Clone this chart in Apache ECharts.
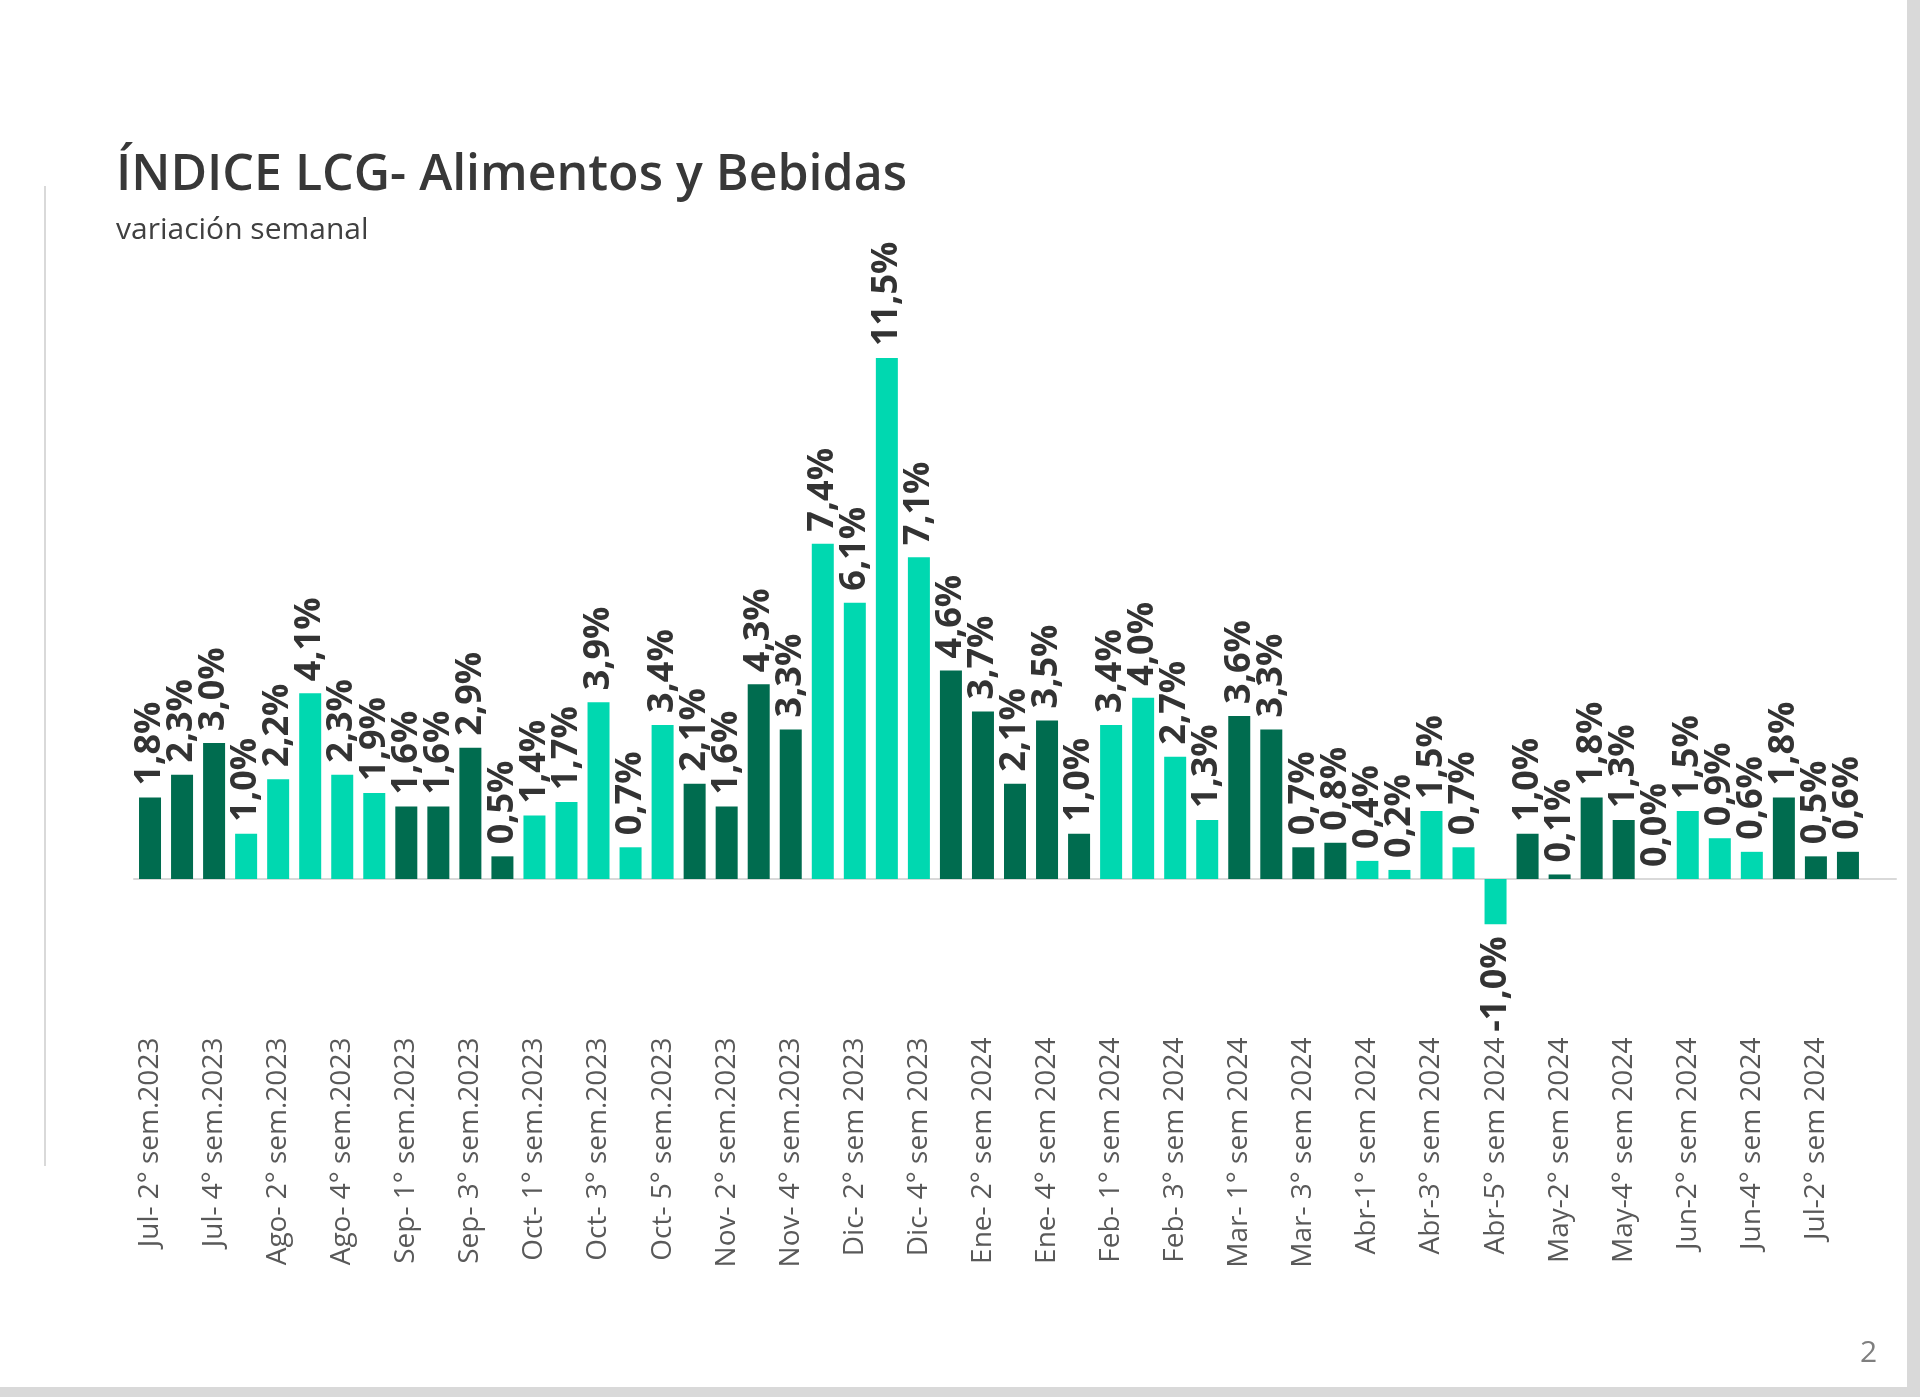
<!DOCTYPE html>
<html>
<head>
<meta charset="utf-8">
<script src="https://cdn.jsdelivr.net/npm/echarts@6/dist/echarts.min.js"></script>
<style>
html,body{margin:0;padding:0;background:#fff;}
#chart{width:1920px;height:1397px;}
</style>
</head>
<body>
<div id="chart"></div>
<script>
const categories = [
  'Jul- 2° sem.2023','Jul- 3° sem.2023','Jul- 4° sem.2023',
  'Ago- 1° sem.2023','Ago- 2° sem.2023','Ago- 3° sem.2023','Ago- 4° sem.2023','Ago- 5° sem.2023',
  'Sep- 1° sem.2023','Sep- 2° sem.2023','Sep- 3° sem.2023','Sep- 4° sem.2023',
  'Oct- 1° sem.2023','Oct- 2° sem.2023','Oct- 3° sem.2023','Oct- 4° sem.2023','Oct- 5° sem.2023',
  'Nov- 1° sem.2023','Nov- 2° sem.2023','Nov- 3° sem.2023','Nov- 4° sem.2023',
  'Dic- 1° sem 2023','Dic- 2° sem 2023','Dic- 3° sem 2023','Dic- 4° sem 2023',
  'Ene- 1° sem 2024','Ene- 2° sem 2024','Ene- 3° sem 2024','Ene- 4° sem 2024','Ene- 5° sem 2024',
  'Feb- 1° sem 2024','Feb- 2° sem 2024','Feb- 3° sem 2024','Feb- 4° sem 2024',
  'Mar- 1° sem 2024','Mar- 2° sem 2024','Mar- 3° sem 2024','Mar- 4° sem 2024',
  'Abr-1° sem 2024','Abr-2° sem 2024','Abr-3° sem 2024','Abr-4° sem 2024','Abr-5° sem 2024',
  'May-1° sem 2024','May-2° sem 2024','May-3° sem 2024','May-4° sem 2024',
  'Jun-1° sem 2024','Jun-2° sem 2024','Jun-3° sem 2024','Jun-4° sem 2024',
  'Jul-1° sem 2024','Jul-2° sem 2024','Jul-3° sem 2024',
  ''
];
const values = [
  1.8, 2.3, 3.0,
  1.0, 2.2, 4.1, 2.3, 1.9,
  1.6, 1.6, 2.9, 0.5,
  1.4, 1.7, 3.9, 0.7, 3.4,
  2.1, 1.6, 4.3, 3.3,
  7.4, 6.1, 11.5, 7.1,
  4.6, 3.7, 2.1, 3.5, 1.0,
  3.4, 4.0, 2.7, 1.3,
  3.6, 3.3, 0.7, 0.8,
  0.4, 0.2, 1.5, 0.7, -1.0,
  1.0, 0.1, 1.8, 1.3,
  0.0, 1.5, 0.9, 0.6,
  1.8, 0.5, 0.6,
  null
];
const titleText = 'ÍNDICE LCG- Alimentos y Bebidas';
const subtitleText = 'variación semanal';

const DARK = '#006c4f', LIGHT = '#00d8b0';
// alternate colour each month
let group = 0, prev = null;
const barData = values.map((v, i) => {
  const m = categories[i].slice(0, 3);
  if (prev !== null && m !== prev) group = 1 - group;
  prev = m;
  const item = { value: v, itemStyle: { color: group === 0 ? DARK : LIGHT } };
  if (v !== null && v < 0) item.label = { position: 'bottom', align: 'right' };
  return item;
});

const chart = echarts.init(document.getElementById('chart'), null, { renderer: 'canvas' });
chart.setOption({
  backgroundColor: '#ffffff',
  animation: false,
  title: {
    text: titleText,
    subtext: subtitleText,
    left: 111,
    top: 146,
    itemGap: 14,
    textStyle: { fontFamily: 'Open Sans', fontSize: 50, fontWeight: 600, color: '#383838' },
    subtextStyle: { fontFamily: 'Open Sans', fontSize: 30, color: '#404040' }
  },
  grid: { left: 134, right: 24, top: 335.4, bottom: 427.4, containLabel: false },
  xAxis: {
    type: 'category',
    data: categories,
    axisLine: { onZero: true, lineStyle: { color: '#d9d9d9', width: 2 } },
    axisTick: { show: false },
    axisLabel: {
      interval: 1, rotate: 90, margin: 68,
      fontFamily: 'Open Sans', fontSize: 28, color: '#595959'
    }
  },
  yAxis: {
    type: 'value', min: -2, max: 12, show: false,
    splitLine: { show: false }
  },
  series: [{
    type: 'bar',
    data: barData,
    barWidth: 22,
    label: {
      show: true,
      position: 'top',
      rotate: 90,
      align: 'left',
      verticalAlign: 'middle',
      distance: 12,
      fontFamily: 'Open Sans',
      fontSize: 36,
      fontWeight: 'bold',
      color: '#333333',
      formatter: p => p.value === null ? '' : p.value.toFixed(1).replace('.', ',') + '%'
    }
  }],
  graphic: [
    { type: 'line', shape: { x1: 45, y1: 186, x2: 45, y2: 1166 }, style: { stroke: '#d9d9d9', lineWidth: 2 } },
    { type: 'rect', shape: { x: 1907, y: 0, width: 13, height: 1397 }, style: { fill: '#d9d9d9' } },
    { type: 'rect', shape: { x: 0, y: 1387, width: 1920, height: 10 }, style: { fill: '#d9d9d9' } },
    { type: 'text', left: 1860, top: 1338, style: { text: '2', font: '30px "Open Sans"', fill: '#7f7f7f' } }
  ]
});
</script>
</body>
</html>
